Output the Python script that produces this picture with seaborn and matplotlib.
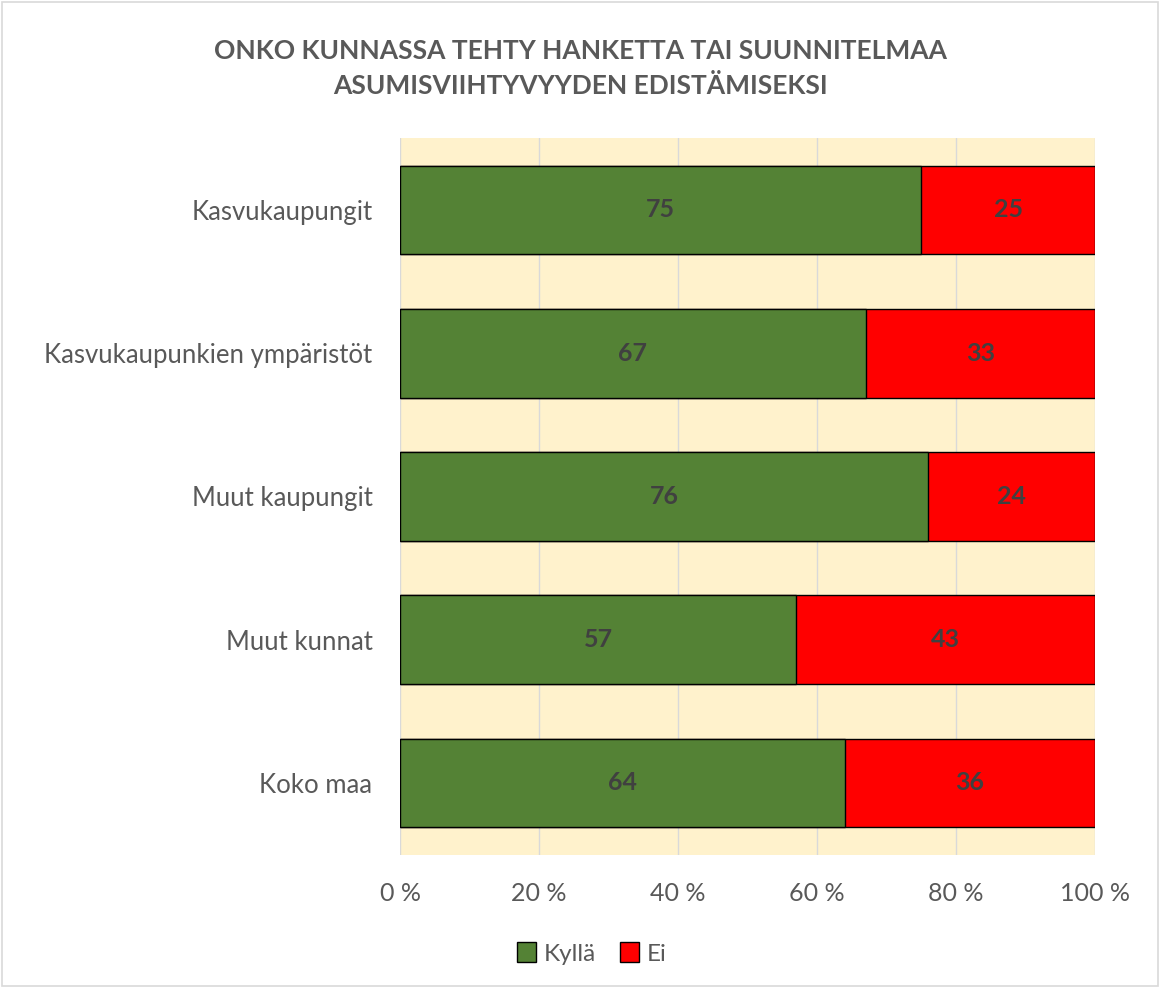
import pandas as pd
import seaborn as sns
import matplotlib
matplotlib.use("Agg")
import matplotlib.pyplot as plt
from matplotlib.patches import Patch, Rectangle

# === Data ===
categories = ["Kasvukaupungit", "Kasvukaupunkien ympäristöt", "Muut kaupungit",
              "Muut kunnat", "Koko maa"]
kylla = [75, 67, 76, 57, 64]
ei = [25, 33, 24, 43, 36]
ticks = [0, 20, 40, 60, 80, 100]
tick_labels = ["0 %", "20 %", "40 %", "60 %", "80 %", "100 %"]
title = "ONKO KUNNASSA TEHTY HANKETTA TAI SUUNNITELMAA\nASUMISVIIHTYVYYDEN EDISTÄMISEKSI"

df = pd.DataFrame({"kategoria": categories, "Kyllä": kylla, "Ei": ei})
df["total"] = df["Kyllä"] + df["Ei"]

sns.set_theme(style="white")
plt.rcParams["font.family"] = ["Lato", "DejaVu Sans"]

green = "#548235"
red = "#FF0000"
txt = "#595959"

fig = plt.figure(figsize=(11.6, 9.88), dpi=100)
ax = fig.add_axes([0.345, 0.135, 0.599, 0.725])
ax.set_facecolor("#FFF2CC")

# red = total (stacked background), green on top
sns.barplot(data=df, y="kategoria", x="total", color=red, width=0.62, saturation=1,
            edgecolor="black", linewidth=1, orient="h", ax=ax, zorder=2)
sns.barplot(data=df, y="kategoria", x="Kyllä", color=green, width=0.62, saturation=1,
            edgecolor="black", linewidth=1, orient="h", ax=ax, zorder=3)

for i, (k, e) in enumerate(zip(kylla, ei)):
    ax.text(k / 2, i, str(k), ha="center", va="center", fontsize=18,
            fontweight="bold", color="#404040", zorder=4)
    ax.text(k + e / 2, i, str(e), ha="center", va="center", fontsize=18,
            fontweight="bold", color="#404040", zorder=4)

ax.set_xlim(0, 100)
ax.set_xticks(ticks)
ax.set_xticklabels(tick_labels, fontsize=18, color=txt)
ax.tick_params(axis="y", labelsize=18.5, labelcolor=txt, length=0, pad=20)
ax.tick_params(axis="x", length=0, pad=20)
ax.set_xlabel("")
ax.set_ylabel("")
ax.xaxis.grid(True, color="#D9D9D9", linewidth=1)
ax.set_axisbelow(True)
for s in ax.spines.values():
    s.set_visible(False)

fig.text(0.5, 0.931, title, ha="center", va="center", fontsize=19,
         fontweight="bold", color=txt, linespacing=1.55)

handles = [Patch(facecolor=green, edgecolor="black", label="Kyllä"),
           Patch(facecolor=red, edgecolor="black", label="Ei")]
fig.legend(handles=handles, loc="center", bbox_to_anchor=(0.51, 0.035), ncol=2,
           frameon=False, fontsize=17.5, handlelength=0.8, handleheight=0.9,
           handletextpad=0.3, columnspacing=1.0, labelcolor=txt)

fig.patches.append(Rectangle((0.002, 0.002), 0.996, 0.996, transform=fig.transFigure,
                             fill=False, edgecolor="#D9D9D9", linewidth=1.2))

plt.savefig("out.png", dpi=100)
plt.close()
